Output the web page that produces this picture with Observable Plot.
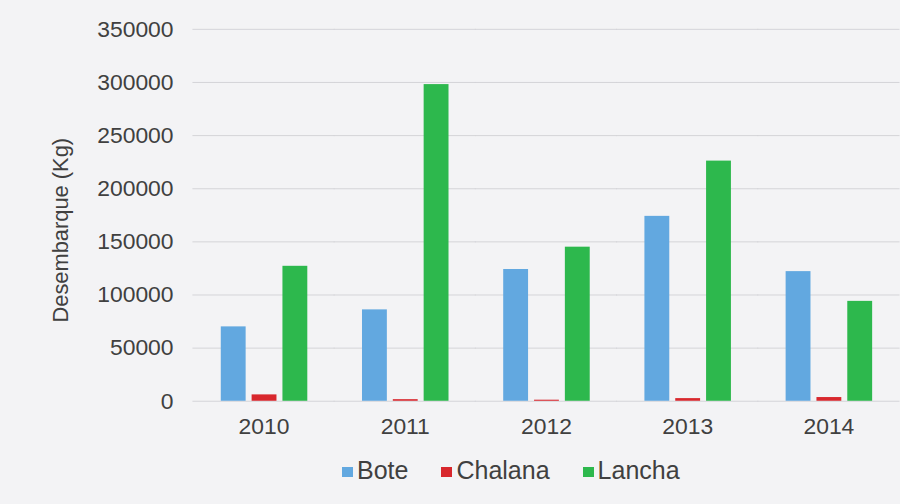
<!DOCTYPE html>
<html>
<head>
<meta charset="utf-8">
<script src="https://cdn.jsdelivr.net/npm/d3@7"></script>
<script src="https://cdn.jsdelivr.net/npm/@observablehq/plot@0.6"></script>
<style>
  html, body { margin: 0; padding: 0; background: #f3f3f5; overflow: hidden; width: 900px; height: 504px; }
  #chart svg { display: block; background: transparent; }
  .legend { display: flex; gap: 33px; justify-content: flex-start; padding-left: 342px; margin-top: 8px;
            font-family: "Liberation Sans", Arial, sans-serif; font-size: 25px; line-height: 28px; color: #404040; }
  .legend span.sw { display: inline-block; width: 11px; height: 10px; margin-right: 4px; vertical-align: 2px; }
</style>
</head>
<body>
<div id="chart"></div>
<script>
const years = ["2010", "2011", "2012", "2013", "2014"];
const types = ["Bote", "Chalana", "Lancha"];
const bote = [70000, 86000, 124000, 174000, 122000];
const chalana = [6000, 1500, 1000, 2500, 3500];
const lancha = [127000, 298000, 145000, 226000, 94000];
const colors = ["#62a8e0", "#d8272d", "#2db84d"];
const yTicks = [0, 50000, 100000, 150000, 200000, 250000, 300000, 350000];
const yLabel = "Desembarque (Kg)";

const series = [bote, chalana, lancha];
const data = [];
years.forEach((yr, i) => types.forEach((t, j) => data.push({year: yr, type: t, value: series[j][i]})));

const chart = Plot.plot({
  width: 905,
  height: 450,
  marginLeft: 193,
  marginRight: 0,
  marginTop: 29,
  marginBottom: 47,
  style: {fontFamily: "'Liberation Sans', Arial, sans-serif", color: "#404040", background: "transparent"},
  fx: {domain: years, paddingInner: 0.38, paddingOuter: 0.18, label: null},
  x: {domain: types, paddingInner: 0.2, paddingOuter: 0, axis: null},
  y: {domain: [0, 350000], label: null},
  color: {domain: types, range: colors},
  marks: [
    Plot.ruleY(yTicks, {stroke: "#d4d4d8", strokeWidth: 1, insetLeft: -27.5, insetRight: -27.5}),
    Plot.axisY(yTicks, {tickSize: 0, tickPadding: 47, tickFormat: "d", fontSize: 23, label: null}),
    Plot.text([yLabel], {frameAnchor: "left", textAnchor: "middle", rotate: -90, dx: -160, dy: 15, fontSize: 22, fill: "#404040", facetAnchor: "left"}),
    Plot.axisFx({anchor: "bottom", tickSize: 0, tickPadding: 17, fontSize: 23, label: null}),
    Plot.barY(data, {fx: "year", x: "type", y: "value", fill: "type"})
  ]
});
document.getElementById("chart").appendChild(chart);

const legend = document.createElement("div");
legend.className = "legend";
types.forEach((t, i) => {
  const item = document.createElement("div");
  const sw = document.createElement("span");
  sw.className = "sw";
  sw.style.background = colors[i];
  item.appendChild(sw);
  item.appendChild(document.createTextNode(t));
  legend.appendChild(item);
});
document.body.appendChild(legend);
</script>
</body>
</html>
